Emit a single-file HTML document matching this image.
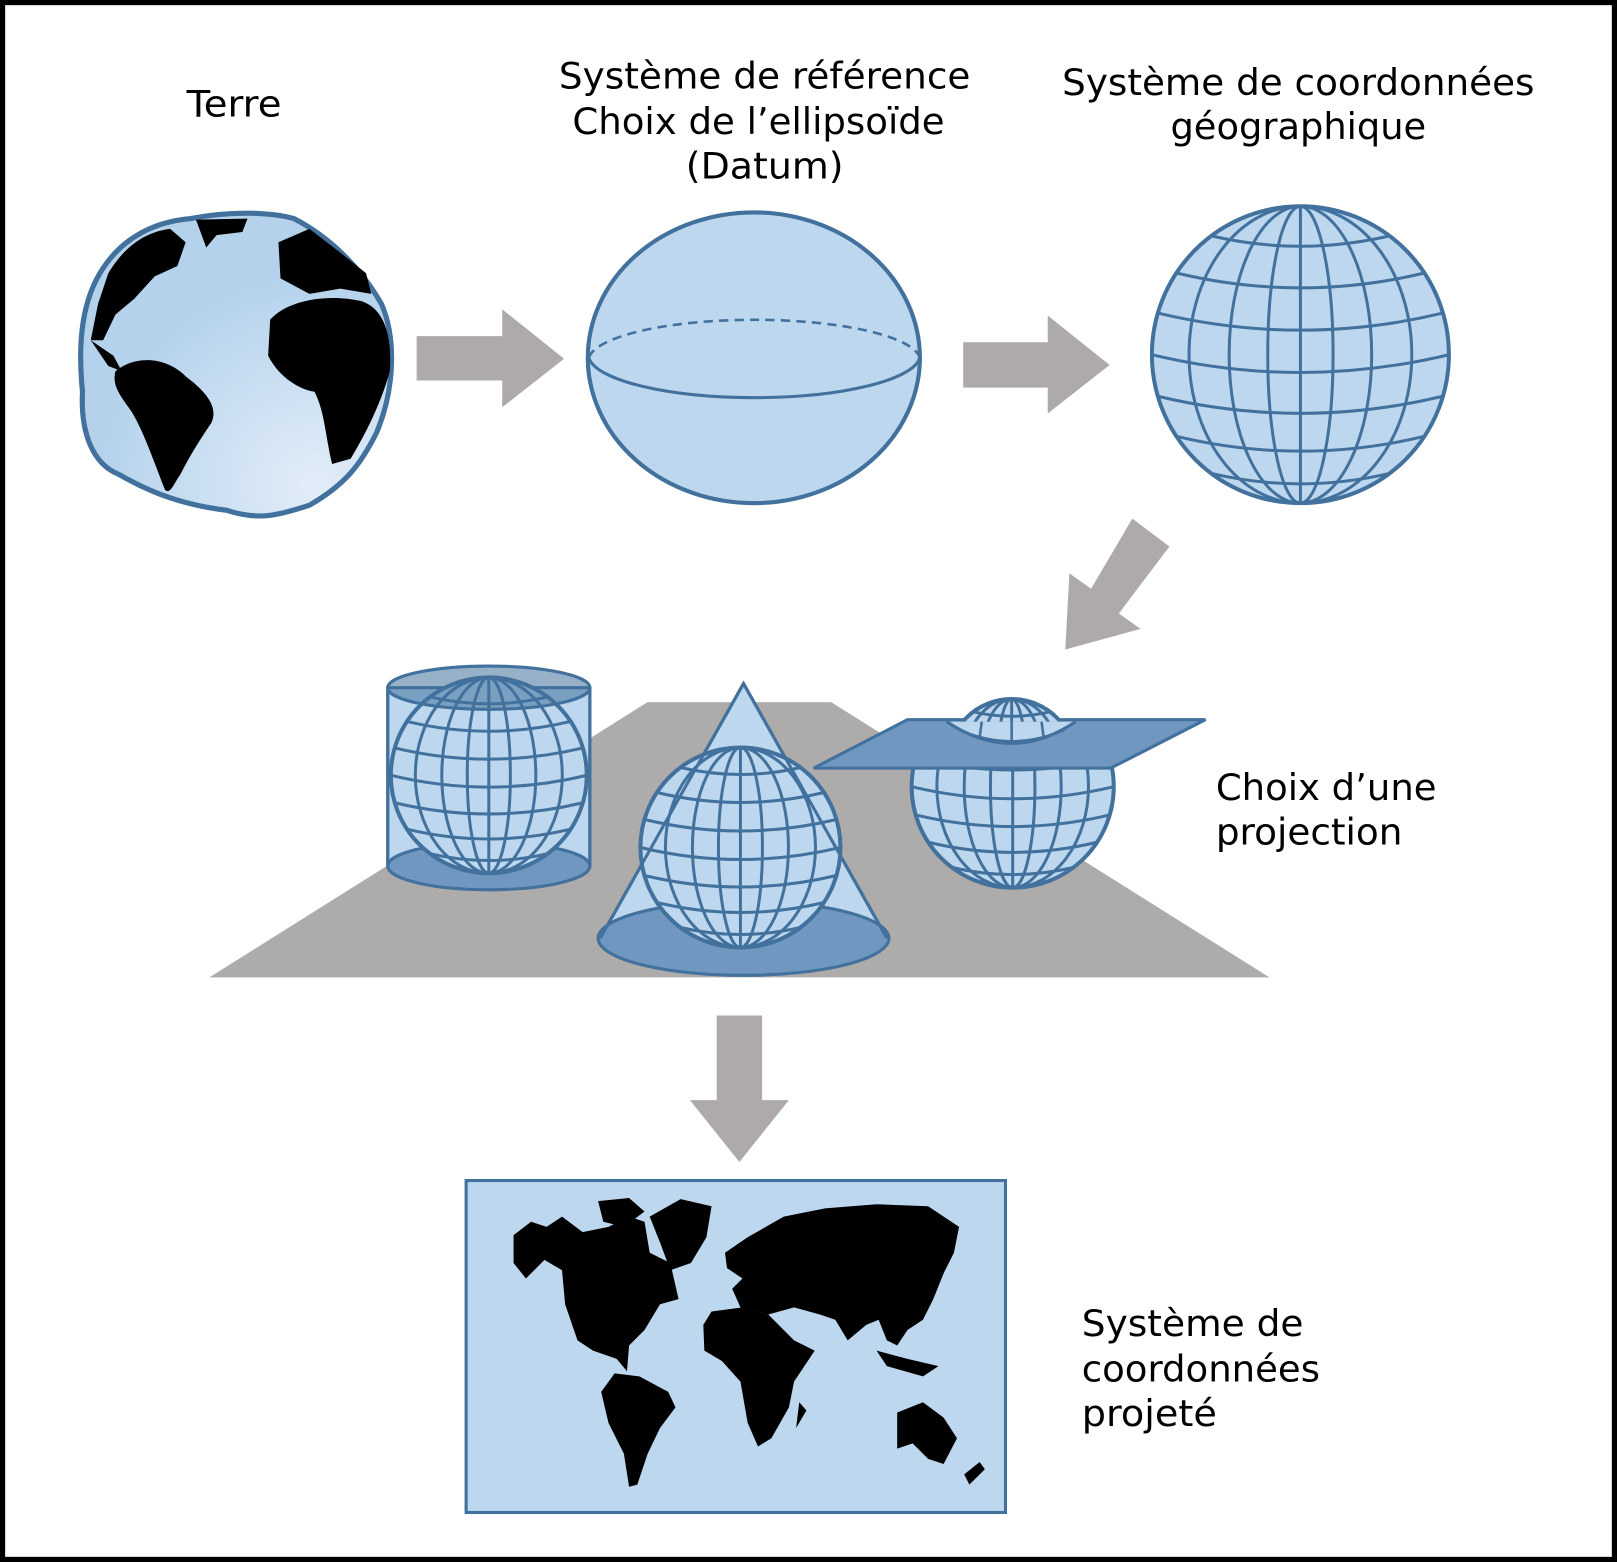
<!DOCTYPE html>
<html><head><meta charset="utf-8"><style>
html,body{margin:0;padding:0;background:#fff}
svg{display:block}
text{font-family:"DejaVu Sans","Liberation Sans",sans-serif;font-size:35px;fill:#000}
</style></head><body>
<svg width="1617" height="1562" viewBox="0 0 1568 1515" preserveAspectRatio="none" xmlns="http://www.w3.org/2000/svg">
<defs>
<clipPath id="gc"><circle cx="0" cy="0" r="100"/></clipPath>
<g id="globe">
<circle cx="0" cy="0" r="100" fill="#bdd7ee"/>
<g clip-path="url(#gc)" fill="none" stroke="#41719c" stroke-width="3" vector-effect="non-scaling-stroke">
<line x1="0" y1="-100" x2="0" y2="100" vector-effect="non-scaling-stroke"/>
<ellipse cx="0" cy="0" rx="22" ry="100" vector-effect="non-scaling-stroke"/>
<ellipse cx="0" cy="0" rx="48" ry="100" vector-effect="non-scaling-stroke"/>
<ellipse cx="0" cy="0" rx="75" ry="100" vector-effect="non-scaling-stroke"/>
<path d="M-60,-80 Q0,-66 60,-80 M-83.5,-55 Q0,-35 83.5,-55 M-96,-28 Q0,-5 96,-28 M-100,0 Q0,24 100,0 M-96,28 Q0,51 96,28 M-83.5,55 Q0,75 83.5,55 M-60,80 Q0,94 60,80" vector-effect="non-scaling-stroke"/>
</g>
<circle cx="0" cy="0" r="100" fill="none" stroke="#41719c" stroke-width="4" vector-effect="non-scaling-stroke"/>
</g>
<radialGradient id="eg" cx="0.75" cy="0.9" r="0.7"><stop offset="0" stop-color="#e2edf8"/><stop offset="1" stop-color="#b4d2ec"/></radialGradient>
<clipPath id="below"><rect x="870" y="700" width="230" height="180"/></clipPath>
<clipPath id="cap"><rect x="900" y="660" width="170" height="40"/></clipPath>
</defs>
<rect x="2.5" y="2.5" width="1563" height="1510" fill="#fff" stroke="#000" stroke-width="5"/>

<text x="181" y="113" textLength="92" lengthAdjust="spacingAndGlyphs">Terre</text>
<text x="542" y="86" textLength="399" lengthAdjust="spacingAndGlyphs">Système de référence</text>
<text x="555" y="130" textLength="361" lengthAdjust="spacingAndGlyphs">Choix de l’ellipsoïde</text>
<text x="665" y="173" textLength="153" lengthAdjust="spacingAndGlyphs">(Datum)</text>
<text x="1030" y="92" textLength="458" lengthAdjust="spacingAndGlyphs">Système de coordonnées</text>
<text x="1135" y="135" textLength="248" lengthAdjust="spacingAndGlyphs">géographique</text>
<text x="1179" y="776" textLength="214" lengthAdjust="spacingAndGlyphs">Choix d’une</text>
<text x="1179" y="819" textLength="181" lengthAdjust="spacingAndGlyphs">projection</text>
<text x="1049" y="1296" textLength="215" lengthAdjust="spacingAndGlyphs">Système de</text>
<text x="1049" y="1340" textLength="231" lengthAdjust="spacingAndGlyphs">coordonnées</text>
<text x="1049" y="1383" textLength="131" lengthAdjust="spacingAndGlyphs">projeté</text>

<!-- Earth -->
<path d="M100,260 C120,230 150,215 185,212 C220,205 260,205 285,212 C320,230 350,260 370,295 C385,330 382,380 365,420 C350,450 335,470 300,490 C270,500 250,505 220,495 C180,490 150,480 115,460 C90,450 78,420 80,380 C75,330 80,290 100,260 Z" fill="url(#eg)" stroke="#41719c" stroke-width="5"/>
<g fill="#000">
<path d="M105,265 C120,240 140,225 165,222 L180,235 L172,258 L150,268 L130,290 L112,305 L100,330 L88,330 L95,295 Z"/>
<path d="M190,213 L240,212 L235,225 L210,228 L200,240 Z"/>
<path d="M270,235 L300,222 L330,245 L355,265 L360,285 L330,280 L300,285 L272,270 Z"/>
<path d="M262,310 C280,290 320,285 350,292 C375,300 380,330 378,360 C370,390 355,420 340,445 L322,450 C315,420 315,400 305,380 C290,378 270,365 260,345 Z"/>
<path d="M112,360 C130,345 160,345 180,365 C200,380 212,395 205,410 C195,425 185,440 175,460 C168,470 165,480 160,475 C150,450 140,420 128,400 C118,385 108,375 112,360 Z"/>
<path d="M88,330 L110,345 L118,360 L105,355 Z"/>
</g>

<!-- Arrows -->
<g fill="#aeaaaa">
<polygon points="404,326 487,326 487,300 547,348 487,395 487,369 404,369"/>
<polygon points="934,332 1016,332 1016,306 1076,354 1016,401 1016,376 934,376"/>
<polygon points="1098,503 1134,530 1085,595 1106,610 1033,630 1037,556 1058,571"/>
<polygon points="695,985 739,985 739,1067 765,1067 717,1127 669,1067 695,1067"/>
</g>

<!-- Ellipsoid -->
<ellipse cx="731" cy="347" rx="161" ry="141" fill="#bdd7ee" stroke="#41719c" stroke-width="4"/>
<path d="M571,347 A161,42 0 0 0 892,347" fill="none" stroke="#41719c" stroke-width="3"/>
<path d="M571,347 A161,40 0 0 1 892,347" fill="none" stroke="#41719c" stroke-width="2.5" stroke-dasharray="9,6"/>

<!-- Geo globe -->
<use href="#globe" transform="translate(1261,344) scale(1.44)"/>

<!-- Platform -->
<polygon points="628,681 806,681 1231,948 203,948" fill="#aeabab"/>

<!-- Cylinder -->
<rect x="376" y="667" width="196" height="173" fill="#bdd7ee" stroke="#41719c" stroke-width="3"/>
<ellipse cx="474" cy="840" rx="98" ry="23" fill="#6f97bf" stroke="#41719c" stroke-width="3"/>
<use href="#globe" transform="translate(474,752) scale(0.95)"/>
<ellipse cx="474" cy="667" rx="98" ry="21" fill="#41719c" fill-opacity="0.55" stroke="#41719c" stroke-width="3"/>
<line x1="376" y1="667" x2="376" y2="840" stroke="#41719c" stroke-width="3"/>
<line x1="572" y1="667" x2="572" y2="840" stroke="#41719c" stroke-width="3"/>

<!-- Cone -->
<polygon points="721,663 860,910 582,910" fill="#bdd7ee" stroke="#41719c" stroke-width="3"/>
<ellipse cx="721" cy="910" rx="141" ry="36" fill="#6f97bf" stroke="#41719c" stroke-width="3"/>
<use href="#globe" transform="translate(718,822) scale(0.97)"/>
<path d="M721,663 L860,910 M721,663 L582,910" stroke="#41719c" stroke-width="3" fill="none"/>

<!-- Plane -->
<g clip-path="url(#below)"><use href="#globe" transform="translate(982,763) scale(0.98)"/></g>
<polygon points="789,745 880,698 1169,698 1077,745" fill="#6f97bf" stroke="#41719c" stroke-width="3"/>
<g clip-path="url(#cap)"><use href="#globe" transform="translate(981,740) scale(0.62)"/></g>
<path d="M918,700 Q981,742 1043,700" fill="#bdd7ee" stroke="#41719c" stroke-width="3"/>
<path d="M930,708 Q981,730 1032,708 M950,715 L952,700 M981,721 L981,700 M1012,715 L1010,700" stroke="#41719c" stroke-width="2.5" fill="none"/>

<!-- Map -->
<rect x="452" y="1145" width="523" height="322" fill="#bdd7ee" stroke="#41719c" stroke-width="3"/>
<g fill="#000">
<path d="M498,1198 L515,1185 L530,1190 L545,1180 L565,1195 L590,1190 L610,1180 L625,1185 L630,1215 L650,1225 L658,1260 L640,1265 L625,1290 L610,1305 L608,1330 L598,1318 L575,1310 L560,1300 L548,1265 L545,1232 L528,1222 L510,1240 L498,1225 Z"/>
<path d="M580,1165 L610,1162 L625,1175 L605,1190 L585,1185 Z"/>
<path d="M630,1180 L660,1163 L690,1170 L685,1200 L670,1225 L650,1232 L640,1205 Z"/>
<path d="M596,1332 L620,1335 L648,1350 L655,1365 L640,1385 L628,1410 L618,1440 L610,1442 L605,1410 L590,1380 L583,1350 Z"/>
<path d="M703,1215 L725,1200 L760,1180 L800,1172 L850,1168 L900,1170 L930,1190 L925,1215 L915,1235 L905,1260 L895,1280 L880,1290 L870,1305 L860,1300 L852,1280 L840,1285 L822,1300 L810,1280 L795,1275 L770,1268 L745,1275 L718,1268 L710,1250 L720,1240 L705,1230 Z"/>
<path d="M690,1272 L720,1268 L745,1275 L770,1300 L790,1310 L770,1340 L765,1365 L748,1395 L735,1403 L725,1380 L718,1340 L700,1320 L683,1310 L682,1285 Z"/>
<path d="M775,1360 L782,1368 L772,1385 Z"/>
<path d="M870,1370 L895,1360 L915,1375 L928,1395 L915,1420 L900,1415 L885,1400 L870,1405 Z"/>
<path d="M850,1310 L880,1318 L910,1325 L895,1335 L860,1325 Z"/>
<path d="M935,1430 L950,1418 L955,1425 L940,1440 Z"/>
</g>
</svg>
</body></html>
